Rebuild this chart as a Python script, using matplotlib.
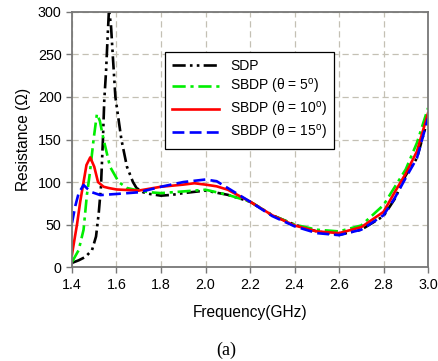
import numpy as np
import matplotlib.pyplot as plt

plt.rcParams['font.family'] = ['Liberation Sans', 'DejaVu Sans']
plt.rcParams['mathtext.fontset'] = 'custom'
plt.rcParams['mathtext.rm'] = 'Liberation Sans'

# SDP
f_sdp = [1.40, 1.43, 1.46, 1.49, 1.508, 1.52, 1.53, 1.539, 1.545, 1.553, 1.56, 1.566,
         1.575, 1.583, 1.595, 1.622, 1.647, 1.674, 1.69, 1.72, 1.75, 1.8, 1.85, 1.9,
         2.0, 2.1, 2.2, 2.3, 2.4, 2.5, 2.6, 2.7, 2.8, 2.85, 2.9, 2.95, 3.0]
r_sdp = [5, 8, 12, 20, 36, 63, 94, 150, 196, 230, 270, 302,
         285, 250, 200, 150, 118, 100, 93, 88, 86, 84, 85, 87,
         90, 85, 77, 61, 50, 42, 38, 44, 60, 80, 108, 128, 175]

# SBDP theta = 5
f_5 = [1.40, 1.43, 1.452, 1.467, 1.48, 1.497, 1.512, 1.525, 1.542, 1.571, 1.61, 1.647,
       1.7, 1.75, 1.8, 1.9, 2.0, 2.1, 2.2, 2.3, 2.4, 2.5, 2.6, 2.7, 2.8, 2.85, 2.9, 2.95, 3.0]
r_5 = [6, 20, 44, 85, 110, 150, 180, 172, 150, 118, 100, 93,
       90, 88, 87, 89, 91, 85, 77, 61, 50, 44, 42, 49, 73, 94, 115, 146, 187]

# SBDP theta = 10
f_10 = [1.40, 1.423, 1.437, 1.452, 1.465, 1.482, 1.5, 1.517, 1.542, 1.565, 1.6, 1.7,
        1.8, 1.9, 1.95, 2.0, 2.05, 2.1, 2.2, 2.3, 2.4, 2.5, 2.6, 2.7, 2.8, 2.85, 2.9, 2.95, 3.0]
r_10 = [15, 51, 77, 100, 120, 129, 118, 100, 94.5, 93, 91.3, 90,
        94.5, 97, 98.6, 97, 95, 91, 77, 61, 49, 42, 40, 47, 65, 88, 110, 136, 181]

# SBDP theta = 15
f_15 = [1.40, 1.415, 1.43, 1.452, 1.47, 1.49, 1.527, 1.6, 1.7, 1.8, 1.9, 2.0, 2.05,
        2.1, 2.2, 2.3, 2.4, 2.5, 2.6, 2.7, 2.8, 2.85, 2.9, 2.95, 3.0]
r_15 = [52, 72, 87, 96.5, 92, 88, 84.7, 86, 88, 94.5, 100, 103, 101,
        93, 77, 60, 48, 40, 37.6, 44, 61, 81, 105, 128, 175]

fig = plt.figure(figsize=(4.39, 3.61), dpi=100)
ax = fig.add_axes([0.164, 0.260, 0.811, 0.707])

ax.plot(f_sdp, r_sdp, color='black', lw=1.9, dashes=[5, 1.6, 1, 1.6, 1, 1.6], label='SDP')
ax.plot(f_5, r_5, color='#00ee00', lw=1.9, dashes=[5, 1.8, 1.2, 1.8],
        label='SBDP (\u03b8 = 5$^{\\rm o}$)')
ax.plot(f_10, r_10, color='red', lw=1.9, label='SBDP (\u03b8 = 10$^{\\rm o}$)')
ax.plot(f_15, r_15, color='blue', lw=1.9, dashes=[4.5, 2],
        label='SBDP (\u03b8 = 15$^{\\rm o}$)')

ax.set_xlim(1.4, 3.0)
ax.set_ylim(0, 300)
ax.set_xticks(np.arange(1.4, 3.01, 0.2))
ax.set_xticklabels(['%.1f' % v for v in np.arange(1.4, 3.01, 0.2)])
ax.set_yticks(np.arange(0, 301, 50))
ax.grid(True, color='#c4c0b4', ls=(0, (5, 3)), lw=0.9)
for s in ax.spines.values():
    s.set_color('#777777')
    s.set_linewidth(1.3)
ax.tick_params(labelsize=10.3, color='#777777', length=4, width=1)

ax.set_xlabel('Frequency(GHz)', fontsize=11.2, labelpad=10)
ax.set_ylabel('Resistance (\u03a9)', fontsize=11.2, labelpad=5)

leg = ax.legend(loc='upper left', bbox_to_anchor=(0.261, 0.843), borderaxespad=0,
                fontsize=10, handlelength=3.4, handletextpad=0.8, labelspacing=0.3,
                fancybox=False, framealpha=1, edgecolor='black', borderpad=0.5)
leg.get_frame().set_linewidth(0.9)

fig.text(0.515, 0.03, '(a)', fontsize=13, family='Liberation Serif', ha='center', va='center')

fig.savefig('out.png', dpi=100)
